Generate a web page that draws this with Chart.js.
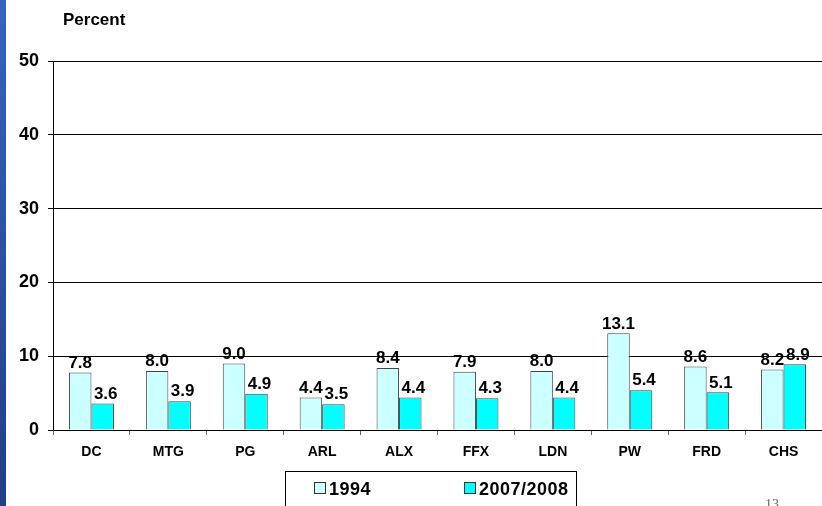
<!DOCTYPE html>
<html>
<head>
<meta charset="utf-8">
<script src="https://cdn.jsdelivr.net/npm/chart.js@4"></script>
<style>
  html, body { margin: 0; padding: 0; width: 822px; height: 506px; overflow: hidden; background: #fff; }
  #wrap { position: relative; width: 822px; height: 506px; }
  #strip { position: absolute; left: 0; top: 0; width: 6px; height: 506px; background: linear-gradient(#3563c4, #1f3f86); }
  #title { position: absolute; left: 63px; top: 10px; font: bold 17px "Liberation Sans", Arial, sans-serif; color: #000; }
  #legend { position: absolute; left: 285px; top: 471px; width: 292px; height: 40px; border: 1px solid #000; box-sizing: border-box;
            font: bold 18px "Liberation Sans", Arial, sans-serif; letter-spacing: 0.5px; color: #000; }
  #legend span.item { position: absolute; top: 7px; white-space: nowrap; }
  #legend i { display: inline-block; width: 10px; height: 10px; border: 1px solid #333; margin-right: 3px; vertical-align: 1px; }
  #page { position: absolute; left: 765px; top: 497px; font: 14px "Liberation Serif", serif; color: #666; }
  #chartBox { position: absolute; left: 0; top: 0; width: 822px; height: 506px; }
</style>
</head>
<body>
<div id="wrap">
  <div id="strip"></div>
  <div id="chartBox"><canvas id="barChart"></canvas></div>
  <div id="title">Percent</div>
  <div id="legend"></div>
  <div id="page">13</div>
</div>
<script>
const categories = ['DC', 'MTG', 'PG', 'ARL', 'ALX', 'FFX', 'LDN', 'PW', 'FRD', 'CHS'];
const seriesNames = ['1994', '2007/2008'];
const values1994 = [7.8, 8.0, 9.0, 4.4, 8.4, 7.9, 8.0, 13.1, 8.6, 8.2];
const values2008 = [3.6, 3.9, 4.9, 3.5, 4.4, 4.3, 4.4, 5.4, 5.1, 8.9];
const yTicks = [0, 10, 20, 30, 40, 50];
const colors = ['#ccffff', '#00ffff'];

const FONT = '"Liberation Sans", Arial, sans-serif';

// value labels drawn over each bar
const valueLabels = {
  id: 'valueLabels',
  afterDatasetsDraw(chart) {
    const ctx = chart.ctx;
    ctx.save();
    ctx.font = 'bold 17px ' + FONT;
    ctx.fillStyle = '#000';
    ctx.textAlign = 'center';
    ctx.textBaseline = 'bottom';
    chart.data.datasets.forEach((ds, i) => {
      chart.getDatasetMeta(i).data.forEach((bar, j) => {
        ctx.fillText(ds.data[j].toFixed(1), bar.x + (i ? 3 : 0), bar.y - 1);
      });
    });
    ctx.restore();
  }
};

new Chart(document.getElementById('barChart'), {
  type: 'bar',
  data: {
    labels: categories,
    datasets: [
      { label: seriesNames[0], data: values1994, backgroundColor: colors[0], borderColor: '#444', borderWidth: 1 },
      { label: seriesNames[1], data: values2008, backgroundColor: colors[1], borderColor: '#444', borderWidth: 1 }
    ]
  },
  options: {
    responsive: true, maintainAspectRatio: false, animation: false,
    layout: { padding: { top: 61, right: 0, left: 0, bottom: 0 } },
    datasets: { bar: { barPercentage: 1, categoryPercentage: 0.585 } },
    plugins: { legend: { display: false }, tooltip: { enabled: false } },
    scales: {
      x: {
        grid: { drawOnChartArea: false, drawTicks: true, tickLength: 5, offset: true, color: '#666' },
        border: { color: '#000', width: 1 },
        ticks: { color: '#000', font: { family: FONT, size: 14, weight: 'bold' }, padding: 9, maxRotation: 0 },
        afterFit(scale) { scale.height = 76; }
      },
      y: {
        min: 0, max: 50,
        afterBuildTicks(scale) { scale.ticks = yTicks.map(v => ({ value: v })); },
        grid: { color: '#000', lineWidth: 1, tickLength: 5 },
        border: { color: '#000', width: 1 },
        ticks: { color: '#000', font: { family: FONT, size: 18, weight: 'bold' }, padding: 9 },
        afterFit(scale) { scale.width = 53; }
      }
    }
  },
  plugins: [valueLabels]
});

// legend box
const legend = document.getElementById('legend');
const legendX = [28, 178];
seriesNames.forEach((name, i) => {
  const s = document.createElement('span');
  s.className = 'item';
  s.style.left = legendX[i] + 'px';
  s.innerHTML = '<i style="background:' + colors[i] + '"></i>' + name;
  legend.appendChild(s);
});
</script>
</body>
</html>
